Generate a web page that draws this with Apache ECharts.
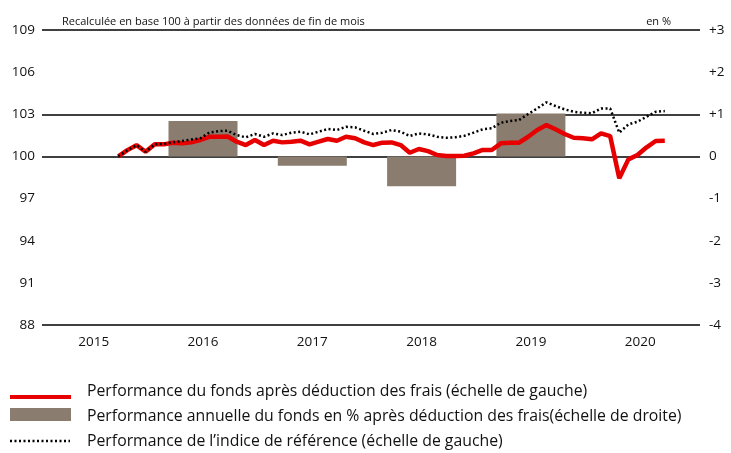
<!DOCTYPE html>
<html>
<head>
<meta charset="utf-8">
<script src="https://cdn.jsdelivr.net/npm/echarts@6/dist/echarts.min.js"></script>
<style>
  html, body { margin: 0; padding: 0; background: #fff; }
  #chart { width: 731px; height: 453px; }
</style>
</head>
<body>
<div id="chart"></div>
<script>
// x position: year labels sit on integer values, one step = one month
var firstMonth = 2015.225;
var fundValues = [
  100.0, 100.45, 100.8, 100.33, 100.86, 100.86, 100.97, 100.93, 101.0, 101.17, 101.4, 101.4, 101.42,
  101.05, 100.81, 101.17, 100.81, 101.12, 101.0, 101.05, 101.12, 100.86, 101.05, 101.24, 101.12, 101.4,
  101.29, 101.0, 100.81, 100.98, 101.0, 100.81, 100.26, 100.53, 100.38, 100.1, 100.03, 100.03, 100.05,
  100.22, 100.46, 100.46, 100.93, 100.98, 100.98, 101.4, 101.88, 102.23, 101.93, 101.6, 101.33, 101.29,
  101.22, 101.64, 101.45, 98.44, 99.79, 100.1, 100.65, 101.1, 101.12
];
var indexValues = [
  100.0, 100.45, 100.8, 100.33, 100.86, 100.9, 101.0, 101.1, 101.2, 101.29, 101.7, 101.8, 101.83,
  101.52, 101.36, 101.6, 101.4, 101.64, 101.52, 101.69, 101.76, 101.57, 101.76, 101.95, 101.88, 102.11,
  102.07, 101.83, 101.6, 101.69, 101.88, 101.76, 101.45, 101.64, 101.57, 101.4, 101.33, 101.36, 101.47,
  101.69, 101.93, 102.0, 102.4, 102.52, 102.59, 103.02, 103.42, 103.85, 103.59, 103.35, 103.18, 103.11,
  103.07, 103.42, 103.42, 101.69, 102.28, 102.47, 102.83, 103.18, 103.23
];
var barYears = [2016, 2017, 2018, 2019];
var barValues = [0.84, -0.22, -0.71, 1.02];
var yearLabels = [2015, 2016, 2017, 2018, 2019, 2020];
var leftTicks = [88, 91, 94, 97, 100, 103, 106, 109];

var names = [
  'Performance du fonds après déduction des frais (échelle de gauche)',
  'Performance annuelle du fonds en % après déduction des frais(échelle de droite)',
  'Performance de l\u2019indice de référence (échelle de gauche)'
];

var FONT = '"Open Sans", sans-serif';
var TXT = '#111';
var RED = '#e60000';
var BAR = '#8a7c6f';

function toPoints(vals) {
  var out = [];
  for (var i = 0; i < vals.length; i++) {
    out.push([firstMonth + i / 12, vals[i]]);
  }
  return out;
}

var barData = barYears.map(function (y, i) { return [y, barValues[i]]; });

var chart = echarts.init(document.getElementById('chart'), null, { renderer: 'canvas' });

// hand-made legend below the chart
var legendText = { fontFamily: FONT, fontSize: 15.8, fill: TXT, verticalAlign: 'middle' };
var legend = [
  { type: 'line', shape: { x1: 10, y1: 397, x2: 71, y2: 397 }, style: { stroke: RED, lineWidth: 4 } },
  { type: 'text', x: 87, y: 391, style: Object.assign({ text: names[0] }, legendText) },
  { type: 'rect', shape: { x: 10, y: 408, width: 61, height: 13 }, style: { fill: BAR } },
  { type: 'text', x: 87, y: 416, style: Object.assign({ text: names[1] }, legendText) },
  { type: 'line', shape: { x1: 10, y1: 441, x2: 70, y2: 441 }, style: { stroke: '#000', lineWidth: 2.5, lineDash: [2, 2.5] } },
  { type: 'text', x: 87, y: 441, style: Object.assign({ text: names[2] }, legendText) }
];

var option = {
  animation: false,
  grid: { left: 42, right: 31, top: 30, bottom: 128, containLabel: false },
  title: [
    {
      text: 'Recalculée en base 100 à partir des données de fin de mois',
      left: 57, top: 11,
      textStyle: { fontFamily: FONT, fontSize: 11, fontWeight: 'normal', color: TXT }
    },
    {
      text: 'en %',
      right: 55, top: 11,
      textStyle: { fontFamily: FONT, fontSize: 11, fontWeight: 'normal', color: TXT }
    }
  ],
  graphic: legend,
  xAxis: {
    type: 'value',
    min: 2014.527, max: 2020.547,
    axisLine: { show: false },
    axisTick: { show: false },
    splitLine: { show: false },
    axisLabel: {
      customValues: yearLabels,
      formatter: function (v) { return String(Math.round(v)); },
      margin: 10,
      fontFamily: FONT, fontSize: 13.5, color: TXT
    }
  },
  yAxis: [
    {
      type: 'value',
      min: 88, max: 109,
      position: 'left',
      axisLine: { show: false },
      axisTick: { show: false },
      splitLine: { show: false },
      axisLabel: {
        customValues: leftTicks,
        margin: 7,
        fontFamily: FONT, fontSize: 13.5, color: TXT
      }
    },
    {
      type: 'value',
      min: -4, max: 3, interval: 1,
      position: 'right',
      axisLine: { show: false },
      axisTick: { show: false },
      axisLabel: {
        margin: 9,
        fontFamily: FONT, fontSize: 13.5, color: TXT,
        formatter: function (v) { return v > 0 ? '+' + v : String(v); }
      },
      splitLine: {
        show: true,
        lineStyle: {
          width: 1.5,
          color: ['#000', 'rgba(0,0,0,0)', 'rgba(0,0,0,0)', 'rgba(0,0,0,0)', '#000', '#000', 'rgba(0,0,0,0)', '#000']
        }
      }
    }
  ],
  series: [
    {
      name: names[1],
      type: 'bar',
      yAxisIndex: 1,
      barWidth: 69,
      itemStyle: { color: BAR },
      data: barData,
      z: 2
    },
    {
      name: names[0],
      type: 'line',
      yAxisIndex: 0,
      symbol: 'none',
      lineStyle: { color: RED, width: 4.5 },
      itemStyle: { color: RED },
      data: toPoints(fundValues),
      z: 3
    },
    {
      name: names[2],
      type: 'line',
      yAxisIndex: 0,
      symbol: 'none',
      lineStyle: { color: '#000', width: 2.5, type: [2, 2.5] },
      itemStyle: { color: '#000' },
      data: toPoints(indexValues),
      z: 4
    }
  ]
};

chart.setOption(option);
</script>
</body>
</html>
